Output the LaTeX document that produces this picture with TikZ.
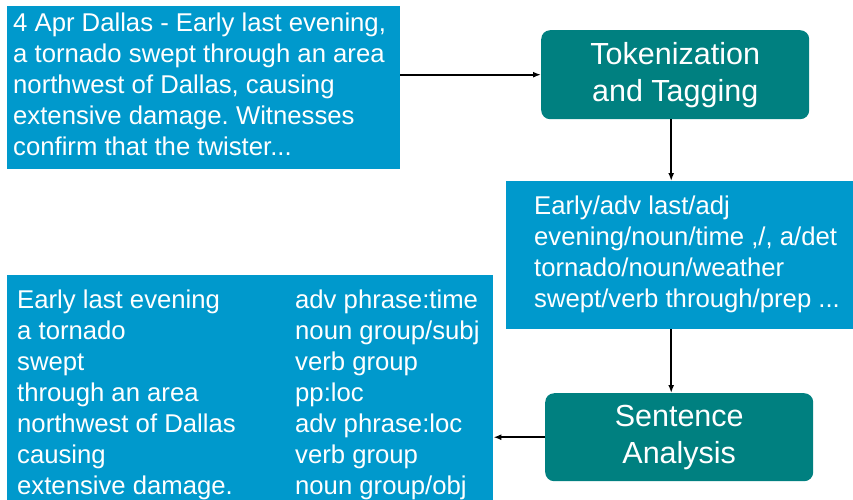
\documentclass[tikz,border=0pt]{standalone}
\usepackage{fontspec}
\setmainfont{Liberation Sans}
\usetikzlibrary{arrows.meta}
\definecolor{boxblue}{HTML}{0099CC}
\definecolor{boxteal}{HTML}{008080}
\frenchspacing
\begin{document}
\begin{tikzpicture}[x=1pt,y=-1pt,
	textbox/.style={fill=boxblue,text=white,inner sep=0pt,anchor=north west,font=\fontsize{25.7}{31}\selectfont},
	procbox/.style={fill=boxteal,text=white,rounded corners=9pt,inner sep=0pt,minimum width=268pt,anchor=north west,align=center,font=\fontsize{30.5}{37}\selectfont},
	flow/.style={-{Latex[length=8pt,width=6pt]},line width=1.6pt}]
	\useasboundingbox (0,0) rectangle (853,499);
	\clip (0,0) rectangle (853,499);
	\node[textbox,minimum height=163pt] (src) at (7,6) {\begin{tabular}{@{\hspace{6pt}}p{387pt}@{}}4 Apr Dallas - Early last evening,\\a tornado swept through an area\\northwest of Dallas, causing\\extensive damage. Witnesses\\confirm that the twister...\end{tabular}};
	\node[procbox,minimum height=89pt] (tok) at (541,30) {Tokenization\\and Tagging};
	\node[textbox,minimum height=148pt] (tag) at (506,181) {\begin{tabular}{@{\hspace{28pt}}p{319pt}@{}}Early/adv last/adj\\evening/noun/time ,/, a/det\\tornado/noun/weather\\swept/verb through/prep ...\end{tabular}};
	\node[procbox,minimum height=88pt] (sent) at (545,393) {Sentence\\Analysis};
	\node[textbox,minimum height=240pt] (out) at (7,275) {\begin{tabular}{@{\hspace{10pt}}p{278pt}@{}p{198pt}@{}}
		Early last evening & adv phrase:time\\
		a tornado & noun group/subj\\
		swept & verb group\\
		through an area & pp:loc\\
		northwest of Dallas & adv phrase:loc\\
		causing & verb group\\
		extensive damage. & noun group/obj\end{tabular}};
	\draw[flow] (src.east |- tok.west) -- (tok.west);
	\draw[flow] ([xshift=-4pt]tok.south) -- ([xshift=-4pt]tok.south |- tag.north);
	\draw[flow] ([xshift=-4pt]tok.south |- tag.south) -- ([xshift=-4pt]tok.south |- sent.north);
	\draw[flow] (sent.west) -- (sent.west -| out.east);
\end{tikzpicture}
\end{document}
